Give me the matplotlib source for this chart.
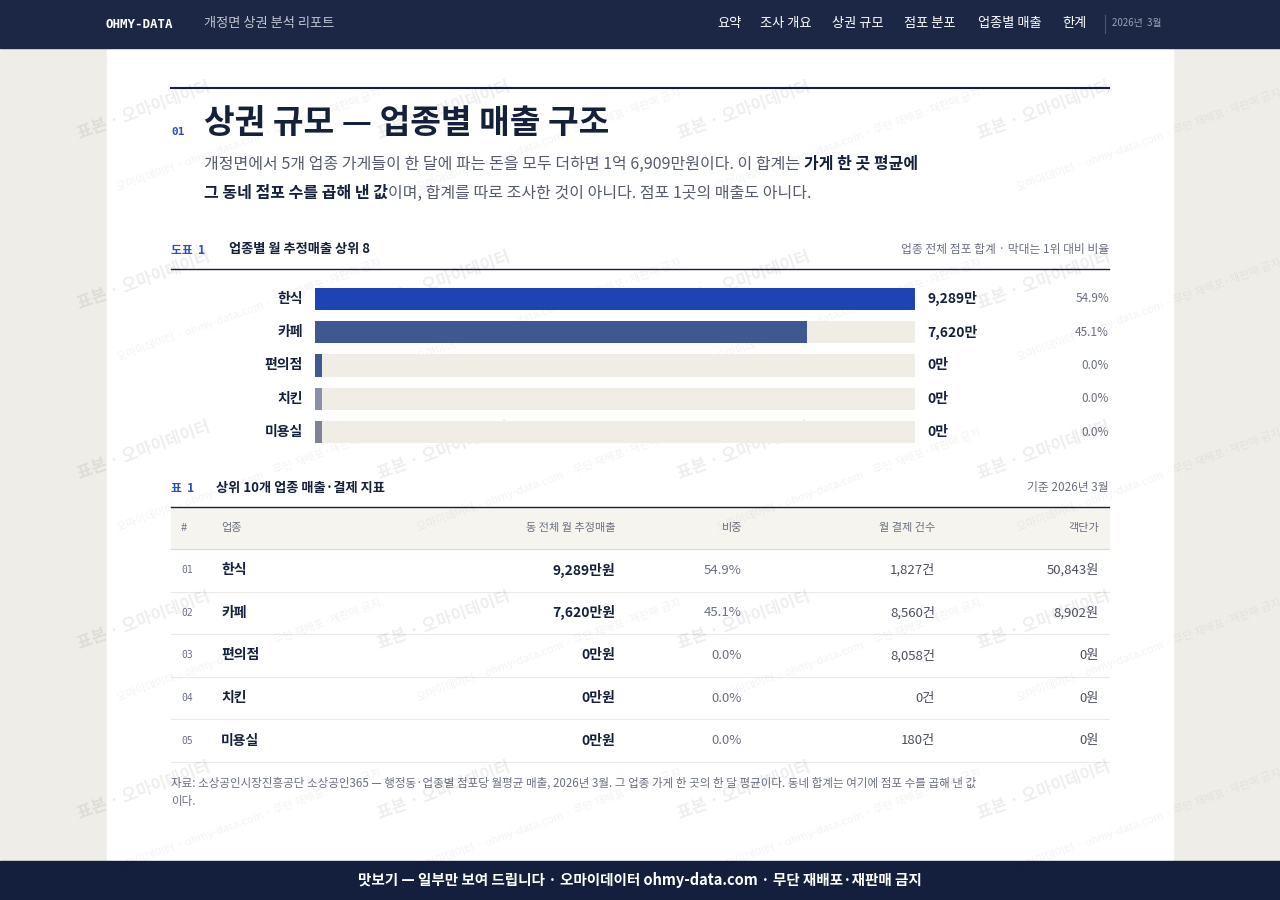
import matplotlib
matplotlib.use("Agg")
import matplotlib.pyplot as plt
from matplotlib.patches import Rectangle

plt.rcParams['font.family'] = ['Noto Sans CJK KR', 'DejaVu Sans']

categories = ['한식', '카페', '편의점', '치킨', '미용실']
sales_man = [9289, 7620, 0, 0, 0]
share_pct = [54.9, 45.1, 0.0, 0.0, 0.0]
payments = [1827, 8560, 8058, 0, 180]
avg_price = [50843, 8902, 0, 0, 0]
bar_colors = ['#1d44b2', '#3f5891', '#3f5891', '#8a90a8', '#7e8398']

W, H = 1280, 900
fig = plt.figure(figsize=(12.8, 9), dpi=100)
fig.patch.set_facecolor('#efede8')
ax = fig.add_axes([0, 0, 1, 1])
ax.set_xlim(0, W); ax.set_ylim(H, 0); ax.axis('off')
renderer = fig.canvas.get_renderer()

def run(x, y, parts, size):
    # draw inline text runs one after another
    for txt, color, wt in parts:
        t = ax.text(x, y, txt, color=color, fontsize=size, weight=wt, va='center')
        bb = t.get_window_extent(renderer=renderer)
        x += bb.width

NAVY = '#1b2744'; DARK = '#15203b'; GREY = '#6b7080'
ax.add_patch(Rectangle((107, 48), 1066, 813, color='white', zorder=0))
ax.add_patch(Rectangle((0, 0), W, 48, color=NAVY, zorder=5))
ax.add_patch(Rectangle((0, 861), W, 39, color='#131f3d', zorder=5))

# header
ax.text(105, 24, 'OHMY-DATA', color='white', fontsize=9, weight='bold', family='DejaVu Sans Mono', va='center', zorder=6)
ax.text(204, 23, '개정면 상권 분석 리포트', color='#c0c5d2', fontsize=9.5, va='center', zorder=6)
navs = [('요약', 717), ('조사 개요', 760), ('상권 규모', 832), ('점포 분포', 904), ('업종별 매출', 978), ('한계', 1062)]
for t, x in navs:
    ax.text(x, 23, t, color='white', fontsize=9.5, va='center', zorder=6)
ax.plot([1105, 1105], [15, 33], color='#4a5573', lw=0.8, zorder=6)
ax.text(1112, 23, '2026년  3월', color='#9aa2b6', fontsize=7, va='center', zorder=6)
ax.text(640, 880, '맛보기 — 일부만 보여 드립니다 · 오마이데이터 ohmy-data.com · 무단 재배포·재판매 금지',
        color='white', fontsize=10.5, weight='bold', ha='center', va='center', zorder=6)

# title section
ax.plot([171, 1109], [88, 88], color=DARK, lw=1.5)
ax.text(171, 132, '01', color='#2a4fc0', fontsize=8, weight='bold', family='DejaVu Sans Mono', va='center')
ax.text(204, 123, '상권 규모 — 업종별 매출 구조', color=DARK, fontsize=24, weight='bold', va='center')
BODY = '#555b6a'
run(204, 164, [('개정면에서 5개 업종 가게들이 한 달에 파는 돈을 모두 더하면 1억 6,909만원이다. 이 합계는 ', BODY, 'normal'),
               ('가게 한 곳 평균에', DARK, 'bold')], 11.5)
run(204, 193, [('그 동네 점포 수를 곱해 낸 값', DARK, 'bold'),
               ('이며, 합계를 따로 조사한 것이 아니다. 점포 1곳의 매출도 아니다.', BODY, 'normal')], 11.5)

# chart header
ax.text(171, 250, '도표  1', color='#2a4fc0', fontsize=8.5, weight='bold', va='center')
ax.text(229, 249, '업종별 월 추정매출 상위 8', color=DARK, fontsize=9.5, weight='bold', va='center')
ax.text(1109, 249, '업종 전체 점포 합계 · 막대는 1위 대비 비율', color=GREY, fontsize=8.5, ha='right', va='center')
ax.plot([171, 1109], [269, 269], color=DARK, lw=1)

# bars
bx0, bx1, by0, by1 = 315, 915, 282, 449
bax = fig.add_axes([bx0 / W, 1 - by1 / H, (bx1 - bx0) / W, (by1 - by0) / H])
n = len(categories)
vmax = max(sales_man)
ys = list(range(n))
bax.barh(ys, [vmax] * n, height=0.66, color='#efede6')
disp = [max(v, vmax * 0.012) for v in sales_man]
bax.barh(ys, disp, height=0.66, color=bar_colors)
bax.set_xlim(0, vmax); bax.set_ylim(n - 0.5, -0.5); bax.axis('off')
for i, (c, v, p) in enumerate(zip(categories, sales_man, share_pct)):
    y = by0 + (by1 - by0) * (i + 0.5) / n
    ax.text(303, y, c, color=DARK, fontsize=10, weight='bold', ha='right', va='center')
    ax.text(927, y, f'{v:,}만', color=DARK, fontsize=10, weight='bold', va='center')
    ax.text(1109, y, f'{p:.1f}%', color=GREY, fontsize=8.5, ha='right', va='center')

# table
ax.text(171, 489, '표  1', color='#2a4fc0', fontsize=8.5, weight='bold', va='center')
ax.text(216, 488, '상위 10개 업종 매출·결제 지표', color=DARK, fontsize=9.5, weight='bold', va='center')
ax.text(1109, 488, '기준 2026년 3월', color=GREY, fontsize=8.5, ha='right', va='center')
ax.plot([171, 1109], [507, 507], color=DARK, lw=1)
ax.add_patch(Rectangle((171, 508), 938, 41, color='#f5f4ef', zorder=0))
hy = 528
ax.text(181, hy, '#', color=GREY, fontsize=8, va='center')
ax.text(221, hy, '업종', color=GREY, fontsize=8, va='center')
ax.text(615, hy, '동 전체 월 추정매출', color=GREY, fontsize=8, ha='right', va='center')
ax.text(742, hy, '비중', color=GREY, fontsize=8, ha='right', va='center')
ax.text(935, hy, '월 결제 건수', color=GREY, fontsize=8, ha='right', va='center')
ax.text(1099, hy, '객단가', color=GREY, fontsize=8, ha='right', va='center')
ax.plot([171, 1109], [549, 549], color='#dddbd3', lw=0.8)
rh = 42.6
for i in range(n):
    y = 549 + rh * (i + 0.5)
    ax.text(181, y, f'{i+1:02d}', color=GREY, fontsize=7, family='DejaVu Sans Mono', va='center')
    ax.text(221, y, categories[i], color=DARK, fontsize=10, weight='bold', va='center')
    ax.text(615, y, f'{sales_man[i]:,}만원', color=DARK, fontsize=10, weight='bold', ha='right', va='center')
    ax.text(742, y, f'{share_pct[i]:.1f}%', color=GREY, fontsize=9.5, ha='right', va='center')
    ax.text(935, y, f'{payments[i]:,}건', color='#4a4f5c', fontsize=9.5, ha='right', va='center')
    ax.text(1099, y, f'{avg_price[i]:,}원', color='#4a4f5c', fontsize=9.5, ha='right', va='center')
    ax.plot([171, 1109], [549 + rh * (i + 1)] * 2, color='#ebe9e3', lw=0.8)
ax.text(171, 783, '자료: 소상공인시장진흥공단 소상공인365 — 행정동·업종별 점포당 월평균 매출, 2026년 3월. 그 업종 가게 한 곳의 한 달 평균이다. 동네 합계는 여기에 점포 수를 곱해 낸 값',
        color=GREY, fontsize=8.3, va='center')
ax.text(171, 802, '이다.', color=GREY, fontsize=8.3, va='center')

# watermarks (kept inside the figure)
for yy in range(110, 860, 170):
    for xx in range(75, 1000, 300):
        ax.text(xx, yy, '표본 · 오마이데이터', color='#000000', alpha=0.07, fontsize=12, weight='bold',
                rotation=20, ha='left', va='center', zorder=7)
        ax.text(xx + 40, yy + 30, '오마이데이터 · ohmy-data.com · 무단 재배포·재판매 금지', color='#000000', alpha=0.05,
                fontsize=8, rotation=20, ha='left', va='center', zorder=7)

fig.savefig('out.png', dpi=100, facecolor=fig.get_facecolor())
